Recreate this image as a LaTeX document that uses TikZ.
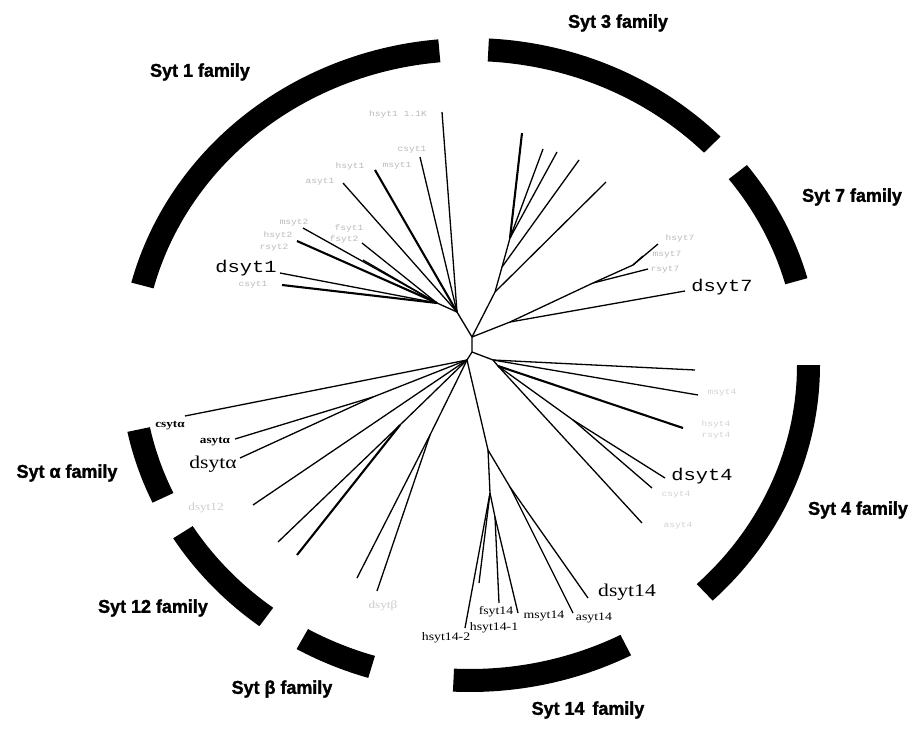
\documentclass[tikz,border=0pt]{standalone}
\usepackage{fontspec}
\setmainfont{Liberation Serif}
\newfontfamily\famfont[BoldFeatures={FakeBold=1.6,FakeStretch=0.97}]{Liberation Sans}
\newfontfamily\monowide[FakeStretch=1.2]{Liberation Mono}
\newfontfamily\serifwide[FakeStretch=1.2]{Liberation Serif}
\newcommand{\famband}[2]{\fill plot[domain=#1:#2,samples=60] ({470+350*cos(\x)},{365+327*sin(\x)}) -- plot[domain=#2:#1,samples=60] ({470+327*cos(\x)},{365+304*sin(\x)}) -- cycle;}
\tikzset{
  fam/.style={font=\famfont\bfseries\fontsize{18.5}{20}\selectfont, inner sep=0pt},
  bigtt/.style={font=\monowide\fontsize{17}{18}\selectfont, inner sep=0pt},
  bigser/.style={font=\serifwide\fontsize{18}{19}\selectfont, inner sep=0pt},
  smser/.style={font=\serifwide\fontsize{11.5}{12}\selectfont, inner sep=0pt},
  smbold/.style={font=\serifwide\bfseries\fontsize{11}{12}\selectfont, inner sep=0pt},
  faint/.style={font=\monowide\fontsize{8}{9}\selectfont, text=gray!55, inner sep=0pt},
  fainter/.style={font=\serifwide\fontsize{11}{12}\selectfont, text=gray!40, inner sep=0pt},
  br/.style={line width=1.3pt},
  thickbr/.style={line width=2.1pt}
}
\begin{document}
\begin{tikzpicture}[x=1pt,y=-1pt]
\useasboundingbox (0,0) rectangle (917,728);
% family bands
\famband{194.6}{264.8}
\famband{273.1}{315.7}
\famband{322.3}{344.6}
\famband{0}{46.1}
\famband{62.6}{92.8}
\famband{106.9}{119.7}
\famband{127}{148}
\famband{155.1}{168.2}
% family labels
\node[fam] (l1) at (200,72) {Syt 1 family};
\node[fam] (l3) at (618,23) {Syt 3 family};
\node[fam] (l7) at (852,197) {Syt 7 family};
\node[fam] (l4) at (858,510) {Syt 4 family};
\node[fam] (l14) at (588,710) {Syt 14\hspace{3pt} family};
\node[fam] (lb) at (282,689) {Syt β family};
\node[fam] (l12) at (153,608) {Syt 12 family};
\node[fam] (la) at (67,473) {Syt α family};
% internal points
\coordinate (A) at (472,337);
\coordinate (B) at (472,352);
\coordinate (C) at (467,360);
\coordinate (W) at (457,312);
\coordinate (X) at (437,303);
\coordinate (S) at (495,292);
\coordinate (T) at (502,267);
\coordinate (U) at (510,238);
\coordinate (P) at (510,322);
\coordinate (Q) at (593,283);
\coordinate (R) at (633,265);
\coordinate (D) at (493,360);
\coordinate (E) at (498,366);
\coordinate (F) at (573,420);
\coordinate (L) at (488,450);
\coordinate (M) at (490,493);
\coordinate (N) at (495,517);
\coordinate (O) at (510,487);
\coordinate (H) at (373,397);
\coordinate (J) at (400,425);
\coordinate (K) at (430,435);
% tips
\coordinate (t1a) at (442,112);
\coordinate (t1b) at (420,157);
\coordinate (t1c) at (375,170);
\coordinate (t1d) at (343,183);
\coordinate (t1e) at (303,228);
\coordinate (t1f) at (297,241);
\coordinate (t1g) at (362,243);
\coordinate (t1h) at (363,260);
\coordinate (t1i) at (280,273);
\coordinate (t1j) at (282,285);
\coordinate (t3a) at (606,182);
\coordinate (t3b) at (579,160);
\coordinate (t3c) at (557,152);
\coordinate (t3d) at (543,149);
\coordinate (t3e) at (522,133);
\coordinate (t7a) at (685,291);
\coordinate (t7b) at (648,269);
\coordinate (t7c) at (658,244);
\coordinate (t7d) at (643,256);
\coordinate (t4a) at (695,370);
\coordinate (t4b) at (698,395);
\coordinate (t4c) at (683,428);
\coordinate (t4d) at (665,478);
\coordinate (t4e) at (652,488);
\coordinate (t4f) at (642,523);
\coordinate (t14a) at (465,628);
\coordinate (t14b) at (479,583);
\coordinate (t14c) at (499,603);
\coordinate (t14d) at (518,613);
\coordinate (t14e) at (573,613);
\coordinate (t14f) at (588,598);
\coordinate (taa) at (185,416);
\coordinate (tab) at (235,439);
\coordinate (tac) at (240,458);
\coordinate (tad) at (253,505);
\coordinate (tae) at (278,542);
\coordinate (taf) at (297,555);
\coordinate (tag) at (357,578);
\coordinate (tah) at (377,591);
% trunk
\draw[br] (A) -- (B) -- (C);
% Syt 1
\draw[br] (A) -- (W) -- (X);
\draw[br] (W) -- (t1a);
\draw[br] (W) -- (t1b);
\draw[thickbr] (W) -- (t1c);
\draw[br] (W) -- (t1d);
\draw[br] (X) -- (t1e);
\draw[thickbr] (X) -- (t1f);
\draw[br] (X) -- (t1g);
\draw[br] (X) -- (t1h);
\draw[br] (X) -- (t1i);
\draw[thickbr] (X) -- (t1j);
% Syt 3
\draw[br] (A) -- (S) -- (T) -- (U);
\draw[br] (S) -- (t3a);
\draw[br] (T) -- (t3b);
\draw[br] (U) -- (t3c);
\draw[br] (U) -- (t3d);
\draw[thickbr] (U) -- (t3e);
% Syt 7
\draw[br] (A) -- (P) -- (Q) -- (R);
\draw[br] (P) -- (t7a);
\draw[br] (Q) -- (t7b);
\draw[br] (R) -- (t7c);
\draw[br] (R) -- (t7d);
% Syt 4
\draw[br] (B) -- (D) -- (E);
\draw[br] (D) -- (t4a);
\draw[br] (D) -- (t4b);
\draw[thickbr] (E) -- (t4c);
\draw[br] (E) -- (F);
\draw[br] (F) -- (t4d);
\draw[br] (F) -- (t4e);
\draw[br] (E) -- (t4f);
% Syt 14
\draw[br] (C) -- (L) -- (M) -- (N);
\draw[br] (M) -- (t14a);
\draw[br] (M) -- (t14b);
\draw[br] (N) -- (t14c);
\draw[br] (N) -- (t14d);
\draw[br] (L) -- (O);
\draw[br] (O) -- (t14e);
\draw[br] (O) -- (t14f);
% Syt alpha / 12 / beta
\draw[br] (C) -- (taa);
\draw[br] (C) -- (H);
\draw[br] (H) -- (tab);
\draw[br] (H) -- (tac);
\draw[br] (C) -- (tad);
\draw[br] (C) -- (J);
\draw[br] (J) -- (tae);
\draw[thickbr] (J) -- (taf);
\draw[br] (C) -- (K);
\draw[br] (K) -- (tag);
\draw[br] (K) -- (tah);
% clear labels
\node[bigtt] (n1) at (246,268) {dsyt1};
\node[bigtt] (n7) at (722,287) {dsyt7};
\node[bigtt] (n4) at (702,476) {dsyt4};
\node[bigser] (n14) at (627,592) {dsyt14};
\node[bigser] (nda) at (213,464) {dsytα};
\node[smbold] (nca) at (170,426) {csytα};
\node[smbold] (naa) at (215,442) {asytα};
\node[smser] (nf14) at (496,612) {fsyt14};
\node[smser] (nh141) at (494,628) {hsyt14-1};
\node[smser] (nh142) at (446,638) {hsyt14-2};
\node[smser] (nm14) at (544,616) {msyt14};
\node[smser] (na14) at (594,618) {asyt14};
% faint labels
\node[faint] (f1) at (398,114) {hsyt1 1.1K};
\node[faint] (f2) at (412,150) {csyt1};
\node[faint] (f3) at (350,166) {hsyt1};
\node[faint] (f4) at (397,166) {msyt1};
\node[faint] (f5) at (320,182) {asyt1};
\node[faint] (f6) at (294,223) {msyt2};
\node[faint] (f7) at (278,235) {hsyt2};
\node[faint] (f8) at (274,248) {rsyt2};
\node[faint] (f9) at (349,228) {fsyt1};
\node[faint] (f10) at (344,239) {fsyt2};
\node[faint] (f11) at (253,285) {csyt1};
\node[faint] (f12) at (680,238) {hsyt7};
\node[faint] (f13) at (667,255) {msyt7};
\node[faint] (f14) at (665,270) {rsyt7};
\node[faint,text=gray!35] (f15) at (722,393) {msyt4};
\node[faint,text=gray!35] (f16) at (716,424) {hsyt4};
\node[faint,text=gray!35] (f17) at (716,436) {rsyt4};
\node[faint,text=gray!35] (f18) at (676,495) {csyt4};
\node[faint,text=gray!35] (f19) at (678,526) {asyt4};
\node[fainter] (f20) at (206,508) {dsyt12};
\node[fainter] (f21) at (383,606) {dsytβ};
\end{tikzpicture}
\end{document}
